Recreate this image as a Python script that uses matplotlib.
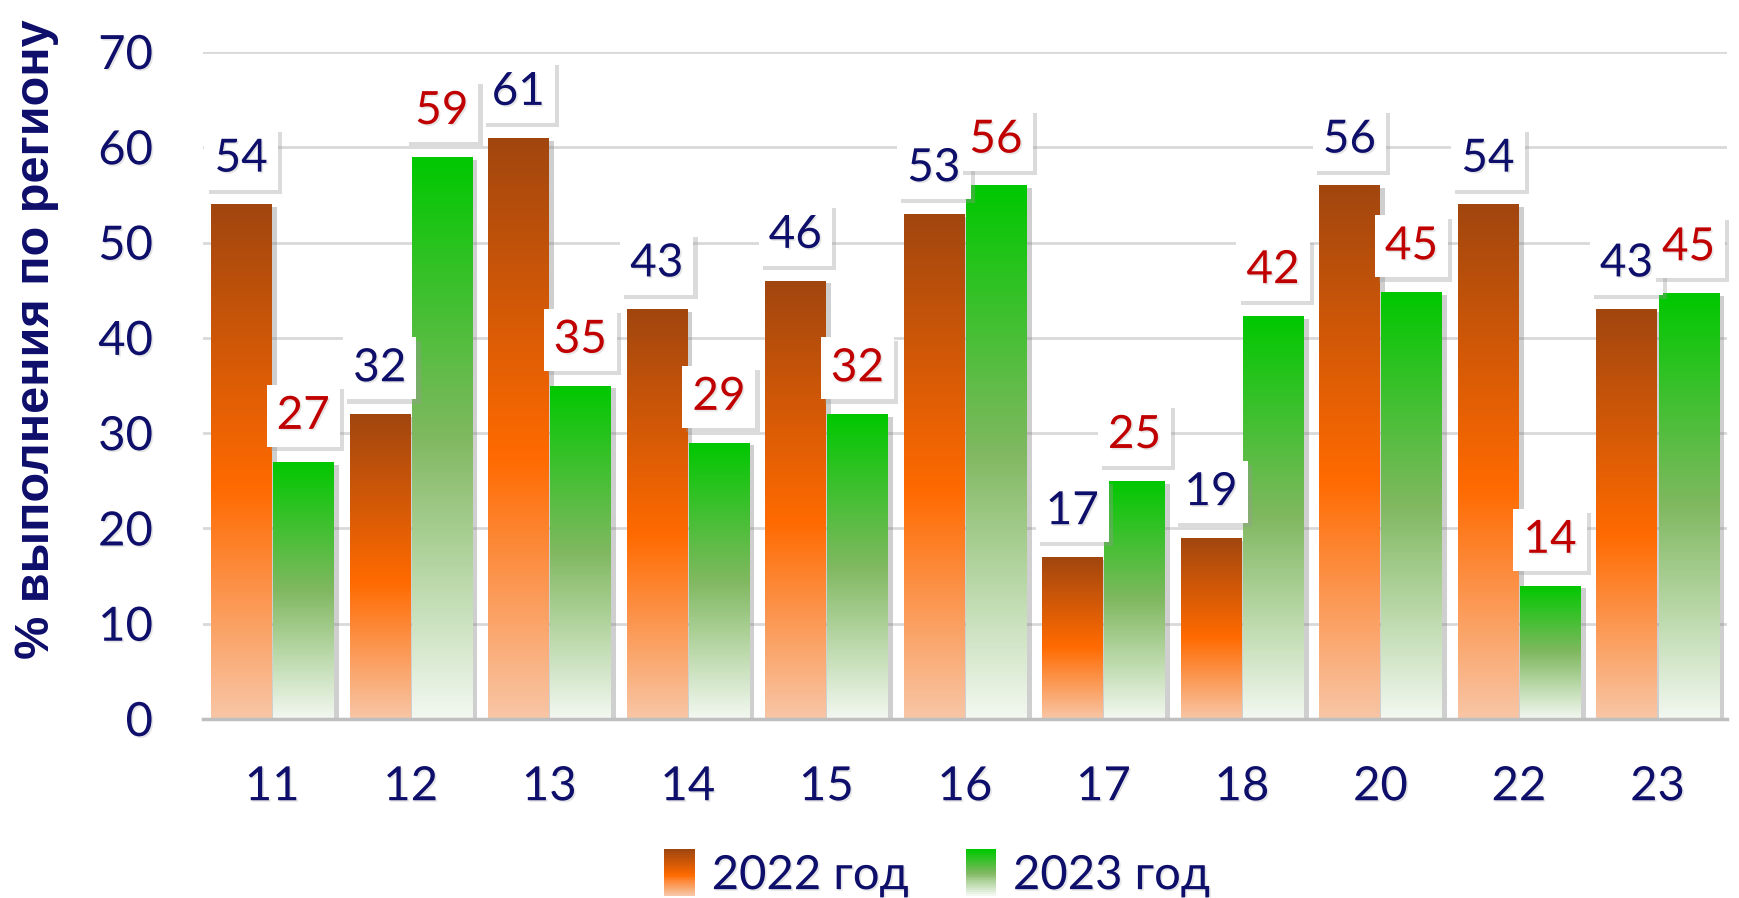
import matplotlib
matplotlib.use("Agg")
import matplotlib.pyplot as plt
import matplotlib.patheffects as pe
import numpy as np
from matplotlib.colors import LinearSegmentedColormap
from matplotlib.legend_handler import HandlerBase
from matplotlib.patches import Rectangle

# data
regions = ["11", "12", "13", "14", "15", "16", "17", "18", "20", "22", "23"]
y2022 = [54, 32, 61, 43, 46, 53, 17, 19, 56, 54, 43]
y2023 = [27, 59, 35, 29, 32, 56, 25, 42.3, 44.8, 14, 44.7]
series_names = ["2022 год", "2023 год"]

NAVY = "#0E0E6B"
RED = "#C00000"
FONT = "Lato"

cmap_orange = LinearSegmentedColormap.from_list(
    "org", [(0.0, "#F8C6A6"), (0.45, "#FF6A00"), (1.0, "#A1460F")])
cmap_green = LinearSegmentedColormap.from_list(
    "grn", [(0.0, "#F3F8F1"), (0.5, "#80B860"), (1.0, "#00C800")])


class GradHandler(HandlerBase):
    def __init__(self, cmap, n=24):
        super().__init__()
        self.cmap = cmap
        self.n = n

    def create_artists(self, legend, orig_handle, xdescent, ydescent,
                       width, height, fontsize, trans):
        arts = []
        h = height * 1.25
        y0 = -ydescent - height * 0.12
        for i in range(self.n):
            arts.append(Rectangle((-xdescent, y0 + h * i / self.n), width,
                                  h / self.n * 1.05, facecolor=self.cmap(i / (self.n - 1)),
                                  edgecolor="none", transform=trans))
        return arts


txt_shadow = [pe.withSimplePatchShadow(offset=(1.2, -1.2), shadow_rgbFace="#999999", alpha=0.25)]

fig = plt.figure(figsize=(17.39, 8.98), dpi=100)
ax = fig.add_axes([0.1167, 0.1993, 0.8763, 0.7428])

x = np.arange(len(regions))
w = 0.434
off = 0.224

for vals, sign, cmap, col in ((y2022, -1, cmap_orange, NAVY), (y2023, 1, cmap_green, RED)):
    bars = ax.bar(x + sign * off, vals, w, facecolor="none", edgecolor="none", zorder=2)
    grad = np.linspace(0, 1, 256).reshape(-1, 1)
    for b, v in zip(bars, vals):
        b.set_path_effects([pe.SimplePatchShadow(offset=(4, -2), shadow_rgbFace="#777777", alpha=0.35)])
        x0 = b.get_x()
        im = ax.imshow(grad, cmap=cmap, origin="lower", aspect="auto",
                       extent=[x0, x0 + b.get_width(), 0, v], zorder=3)
        im.set_clip_path(b)
        t = ax.annotate(f"{v:.0f}", (x0 + b.get_width() / 2, v), xytext=(0, 33),
                        textcoords="offset points", ha="center", va="center",
                        fontsize=33, family=FONT, color=col, zorder=5,
                        bbox=dict(boxstyle="square,pad=0.22", facecolor="white", edgecolor="none"))
        t.set_path_effects(txt_shadow)
        t.get_bbox_patch().set_path_effects(
            [pe.SimplePatchShadow(offset=(3, -3), shadow_rgbFace="#999999", alpha=0.35), pe.Normal()])

ax.set_xlim(-0.5, len(regions) - 0.5)
ax.set_ylim(0, 70)
ax.set_yticks(range(0, 71, 10))
ax.set_xticks(x)
ax.set_xticklabels(regions)
ax.grid(axis="y", color="#D9D9D9", lw=2, zorder=0)
ax.set_axisbelow(True)
for s in ("left", "right", "top"):
    ax.spines[s].set_visible(False)
ax.spines["bottom"].set_color("#BFBFBF")
ax.spines["bottom"].set_linewidth(2.5)
ax.spines["bottom"].set_zorder(6)
ax.tick_params(length=0, labelsize=34, labelcolor=NAVY)
ax.tick_params(axis="x", pad=34)
ax.tick_params(axis="y", pad=36)
for lab in ax.get_xticklabels() + ax.get_yticklabels():
    lab.set_family(FONT)
    lab.set_path_effects(txt_shadow)

fig.text(0.021, 0.622, "% выполнения по региону", rotation=90, ha="center", va="center",
         fontsize=35, fontweight="bold", family="Liberation Sans", color=NAVY)

h1 = Rectangle((0, 0), 1, 1)
h2 = Rectangle((0, 0), 1, 1)
leg = fig.legend([h1, h2], series_names, loc="center", bbox_to_anchor=(0.539, 0.025),
                 ncol=2, frameon=False, handler_map={h1: GradHandler(cmap_orange), h2: GradHandler(cmap_green)},
                 prop={"family": FONT, "size": 34}, handlelength=0.65, handleheight=0.85,
                 handletextpad=0.35, columnspacing=1.2)
for t in leg.get_texts():
    t.set_color(NAVY)
    t.set_path_effects(txt_shadow)

fig.savefig("out.png", dpi=100)
